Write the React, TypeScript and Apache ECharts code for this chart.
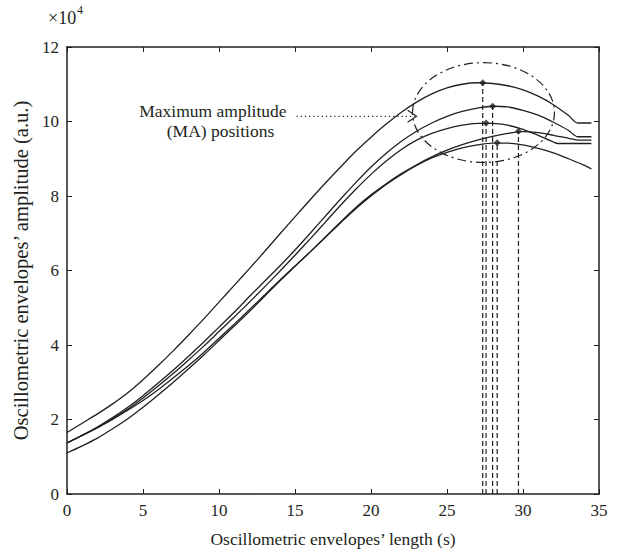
import React, { useEffect, useRef } from "react";
import * as echarts from "echarts";

// ---- data (amplitude in units of 10^4, time in s) ----
const curveAX = [0, 1, 2, 3, 4, 5, 6, 7, 8, 9, 10, 11, 12, 13, 14, 15, 16, 17, 18, 19, 20, 21, 22, 23, 24, 25, 26, 27, 28, 29, 30, 31, 32, 33, 33.6, 34.5];
const curveAY = [1.65, 1.9, 2.15, 2.42, 2.72, 3.07, 3.45, 3.85, 4.27, 4.7, 5.15, 5.6, 6.05, 6.51, 6.98, 7.44, 7.9, 8.35, 8.78, 9.2, 9.58, 9.93, 10.25, 10.52, 10.74, 10.9, 11.0, 11.04, 11.02, 10.96, 10.85, 10.68, 10.45, 10.16, 9.96, 9.96];

const curveBX = [0, 1, 2, 3, 4, 5, 6, 7, 8, 9, 10, 11, 12, 13, 14, 15, 16, 17, 18, 19, 20, 21, 22, 23, 24, 25, 26, 27, 28, 29, 30, 31, 32, 33, 33.6, 34.5];
const curveBY = [1.37, 1.58, 1.8, 2.05, 2.33, 2.64, 2.98, 3.33, 3.7, 4.08, 4.48, 4.88, 5.3, 5.71, 6.12, 6.55, 7.0, 7.46, 7.92, 8.36, 8.78, 9.15, 9.47, 9.74, 9.96, 10.14, 10.27, 10.36, 10.41, 10.39, 10.3, 10.17, 9.98, 9.76, 9.59, 9.59];

const curveCX = [0, 1, 2, 3, 4, 5, 6, 7, 8, 9, 10, 11, 12, 13, 14, 15, 16, 17, 18, 19, 20, 21, 22, 23, 24, 25, 26, 27, 28, 29, 30, 31, 32, 32.3, 34.5];
const curveCY = [1.37, 1.57, 1.78, 2.02, 2.28, 2.58, 2.9, 3.24, 3.6, 3.97, 4.36, 4.75, 5.15, 5.56, 5.98, 6.41, 6.85, 7.3, 7.75, 8.18, 8.58, 8.94, 9.25, 9.5, 9.68, 9.81, 9.9, 9.95, 9.95, 9.9, 9.79, 9.63, 9.45, 9.41, 9.41];

const curveDX = [0, 1, 2, 3, 4, 5, 6, 7, 8, 9, 10, 11, 12, 13, 14, 15, 16, 17, 18, 19, 20, 21, 22, 23, 24, 25, 26, 27, 28, 29, 30, 31, 32, 33, 33.6, 34.5];
const curveDY = [1.1, 1.29, 1.5, 1.75, 2.02, 2.33, 2.66, 3.0, 3.36, 3.73, 4.12, 4.51, 4.9, 5.31, 5.72, 6.11, 6.5, 6.9, 7.3, 7.69, 8.03, 8.33, 8.6, 8.84, 9.05, 9.23, 9.38, 9.5, 9.6, 9.68, 9.73, 9.7, 9.63, 9.55, 9.5, 9.5];

const curveEX = [0, 1, 2, 3, 4, 5, 6, 7, 8, 9, 10, 11, 12, 13, 14, 15, 16, 17, 18, 19, 20, 21, 22, 23, 24, 25, 26, 27, 28, 29, 30, 31, 32, 33, 34, 34.5];
const curveEY = [1.37, 1.57, 1.78, 2.0, 2.25, 2.51, 2.8, 3.12, 3.45, 3.8, 4.18, 4.56, 4.95, 5.34, 5.74, 6.12, 6.5, 6.89, 7.28, 7.66, 8.0, 8.31, 8.58, 8.82, 9.02, 9.17, 9.29, 9.37, 9.42, 9.42, 9.37, 9.28, 9.16, 9.0, 8.83, 8.73];

const peakX = [27.35, 28.0, 27.57, 29.7, 28.3];
const peakY = [11.04, 10.41, 9.96, 9.74, 9.43];

// annotation (data coordinates)
const ellipseCenter = [27.4, 10.24];
const ellipseRadius = [4.67, 1.34];
const arrowFrom = [15.1, 10.14];
const arrowTo = [23.0, 10.14];
const noteLine1 = { text: "Maximum amplitude", at: [9.6, 10.27] };
const noteLine2 = { text: "(MA) positions", at: [10.1, 9.75] };

const xName = "Oscillometric envelopes’ length (s)";
const yName = "Oscillometric envelopes’ amplitude (a.u.)";

const INK = "#231f20";
const FONT = "Liberation Serif";

const zip = (xs: number[], ys: number[]) => xs.map((x, i) => [x, ys[i]]);

export default function App() {
  const ref = useRef<HTMLDivElement>(null);
  useEffect(() => {
    document.body.style.margin = "0";
    const chart = echarts.init(ref.current!, undefined, { renderer: "svg" });
    const curves = [
      zip(curveAX, curveAY),
      zip(curveBX, curveBY),
      zip(curveCX, curveCY),
      zip(curveDX, curveDY),
      zip(curveEX, curveEY),
    ];
    const axisCommon = {
      axisLine: { show: true, onZero: false, lineStyle: { color: INK, width: 1.5 } },
      axisTick: { show: true, inside: true, length: 5, lineStyle: { color: INK, width: 1 } },
      splitLine: { show: false },
    };
    const option: any = {
      animation: false,
      backgroundColor: "#ffffff",
      textStyle: { fontFamily: FONT },
      grid: { left: 67, right: 29, top: 47, bottom: 65, containLabel: false },
      xAxis: [
        {
          type: "value",
          min: 0,
          max: 35,
          interval: 5,
          position: "bottom",
          ...axisCommon,
          axisLabel: { color: INK, fontSize: 17, fontFamily: FONT, margin: 8 },
          name: xName,
          nameLocation: "middle",
          nameGap: 36,
          nameTextStyle: { color: INK, fontSize: 17.5, fontFamily: FONT },
        },
        {
          type: "value",
          min: 0,
          max: 35,
          interval: 5,
          position: "top",
          ...axisCommon,
          axisLabel: { show: false },
        },
      ],
      yAxis: [
        {
          type: "value",
          min: 0,
          max: 12,
          interval: 2,
          position: "left",
          ...axisCommon,
          axisLabel: { color: INK, fontSize: 17, fontFamily: FONT, margin: 8 },
          name: yName,
          nameLocation: "middle",
          nameGap: 34,
          nameTextStyle: { color: INK, fontSize: 20.5, fontFamily: FONT },
        },
        {
          type: "value",
          min: 0,
          max: 12,
          interval: 2,
          position: "right",
          ...axisCommon,
          axisLabel: { show: false },
        },
      ],
      series: [
        ...curves.map((d) => ({
          type: "line",
          data: d,
          smooth: 0.3,
          showSymbol: false,
          symbol: "none",
          lineStyle: { color: INK, width: 1.3 },
          silent: true,
        })),
        ...peakX.map((x, i) => ({
          type: "line",
          data: [
            [x, 0],
            [x, peakY[i]],
          ],
          showSymbol: false,
          symbol: "none",
          lineStyle: { color: INK, width: 1.2, type: [5, 3] },
          silent: true,
        })),
        {
          type: "scatter",
          data: zip(peakX, peakY),
          symbol: "diamond",
          symbolSize: 7,
          itemStyle: { color: INK },
          silent: true,
        },
      ],
    };
    chart.setOption(option);

    const px = (p: number[]) => chart.convertToPixel({ xAxisIndex: 0, yAxisIndex: 0 }, p) as number[];
    const c = px(ellipseCenter);
    const cEdge = px([ellipseCenter[0] + ellipseRadius[0], ellipseCenter[1] + ellipseRadius[1]]);
    const a0 = px(arrowFrom);
    const a1 = px(arrowTo);
    const t1 = px(noteLine1.at);
    const t2 = px(noteLine2.at);
    const origin = px([0, 12]);

    chart.setOption({
      graphic: [
        {
          type: "ellipse",
          silent: true,
          shape: { cx: c[0], cy: c[1], rx: Math.abs(cEdge[0] - c[0]), ry: Math.abs(cEdge[1] - c[1]) },
          style: { fill: "none", stroke: INK, lineWidth: 1.2, lineDash: [9, 4, 2, 4] },
        },
        {
          type: "line",
          silent: true,
          shape: { x1: a0[0], y1: a0[1], x2: a1[0] - 2, y2: a1[1] },
          style: { stroke: INK, lineWidth: 1.2, lineDash: [1.2, 3] },
        },
        {
          type: "polyline",
          silent: true,
          shape: {
            points: [
              [a1[0] - 9, a1[1] - 6],
              [a1[0], a1[1]],
              [a1[0] - 9, a1[1] + 6],
            ],
          },
          style: { fill: "none", stroke: INK, lineWidth: 1.1 },
        },
        {
          type: "text",
          silent: true,
          style: {
            x: t1[0],
            y: t1[1],
            text: noteLine1.text,
            fill: INK,
            fontSize: 17.5,
            fontFamily: FONT,
            align: "center",
            verticalAlign: "middle",
          },
        },
        {
          type: "text",
          silent: true,
          style: {
            x: t2[0],
            y: t2[1],
            text: noteLine2.text,
            fill: INK,
            fontSize: 17.5,
            fontFamily: FONT,
            align: "center",
            verticalAlign: "middle",
          },
        },
        {
          type: "text",
          silent: true,
          style: {
            x: origin[0] - 19,
            y: origin[1] - 29,
            text: "×10",
            fill: INK,
            fontSize: 18,
            fontFamily: FONT,
            align: "left",
            verticalAlign: "middle",
          },
        },
        {
          type: "text",
          silent: true,
          style: {
            x: origin[0] + 10,
            y: origin[1] - 37,
            text: "4",
            fill: INK,
            fontSize: 12,
            fontFamily: FONT,
            align: "left",
            verticalAlign: "middle",
          },
        },
      ],
    });
    return () => chart.dispose();
  }, []);
  return <div ref={ref} style={{ width: 628, height: 559 }} />;
}
